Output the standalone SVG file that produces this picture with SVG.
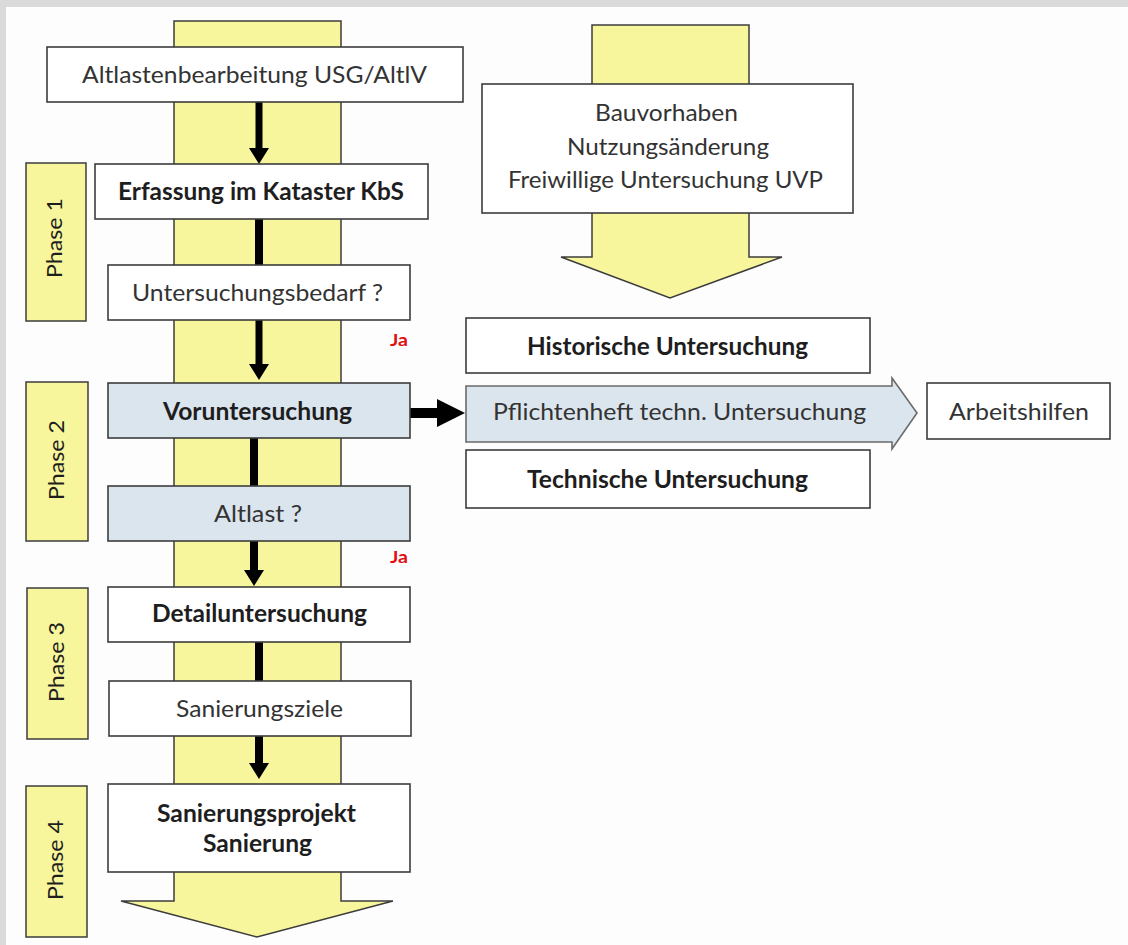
<svg xmlns="http://www.w3.org/2000/svg" width="1128" height="945" viewBox="0 0 1128 945">
  <style>
    .bg { fill: #fdfdfd; }
    .frame { fill: #dadada; }
    .yel { fill: #f8f69c; stroke: #3c3c3c; stroke-width: 1.5; }
    .box { fill: #ffffff; stroke: #3c3c3c; stroke-width: 1.6; }
    .blue { fill: #dbe5ee; stroke: #3c3c3c; stroke-width: 1.6; }
    .pfl { fill: #dbe5ee; stroke: #6a6a6a; stroke-width: 1.6; }
    text { font-family: Lato, "Open Sans", "Liberation Sans", sans-serif; text-anchor: middle; }
    .n { font-size: 24px; fill: #333333; }
    .b { font-size: 24px; font-weight: bold; fill: #1e1e1e; }
    .ph { font-size: 22px; fill: #1e1e1e; }
    .ja { font-size: 17px; font-weight: bold; fill: #e01010; }
    .con { stroke: #000000; fill: none; }
  </style>
  <defs>
    <marker id="ah" viewBox="0 -10 16 20" refX="0" refY="0" markerUnits="userSpaceOnUse" markerWidth="16" markerHeight="20" orient="auto">
      <path d="M0,-10 L16,0 L0,10 Z" fill="#000000"/>
    </marker>
    <marker id="ahBig" viewBox="0 -14 28 28" refX="0" refY="0" markerUnits="userSpaceOnUse" markerWidth="28" markerHeight="28" orient="auto">
      <path d="M0,-14 L28,0 L0,14 Z" fill="#000000"/>
    </marker>
  </defs>

  <!-- background -->
  <rect class="bg" x="0" y="0" width="1128" height="945"/>
  <rect class="frame" x="0" y="0" width="1128" height="7"/>
  <rect class="frame" x="0" y="0" width="6" height="945"/>

  <!-- big yellow flow arrows -->
  <g id="mainFlow">
    <polygon class="yel" points="174,21 341,21 341,901 393,901 257,937 121,901 174,901"/>
  </g>
  <g id="sideFlow">
    <polygon class="yel" points="592,25 749,25 749,257 782,257 670,298 561,257 592,257"/>
  </g>

  <!-- phase labels -->
  <g id="phase1">
    <rect class="yel" x="26" y="163" width="60" height="158"/>
    <text class="ph" transform="translate(62,238) rotate(-90)" textLength="80" lengthAdjust="spacingAndGlyphs">Phase 1</text>
  </g>
  <g id="phase2">
    <rect class="yel" x="26" y="382" width="62" height="159"/>
    <text class="ph" transform="translate(64,460) rotate(-90)" textLength="80" lengthAdjust="spacingAndGlyphs">Phase 2</text>
  </g>
  <g id="phase3">
    <rect class="yel" x="27" y="588" width="61" height="151"/>
    <text class="ph" transform="translate(64,662) rotate(-90)" textLength="80" lengthAdjust="spacingAndGlyphs">Phase 3</text>
  </g>
  <g id="phase4">
    <rect class="yel" x="26" y="786" width="61" height="151"/>
    <text class="ph" transform="translate(63,860) rotate(-90)" textLength="80" lengthAdjust="spacingAndGlyphs">Phase 4</text>
  </g>

  <!-- connectors -->
  <g id="connectors">
    <line class="con" x1="259" y1="102" x2="259" y2="148" stroke-width="7" marker-end="url(#ah)"/>
    <line class="con" x1="259" y1="219" x2="259" y2="265" stroke-width="8"/>
    <line class="con" x1="259" y1="320" x2="259" y2="364" stroke-width="7" marker-end="url(#ah)"/>
    <line class="con" x1="254" y1="438" x2="254" y2="486" stroke-width="8"/>
    <line class="con" x1="254" y1="541" x2="254" y2="570" stroke-width="8" marker-end="url(#ah)"/>
    <line class="con" x1="259" y1="642" x2="259" y2="681" stroke-width="8"/>
    <line class="con" x1="259" y1="736" x2="259" y2="763" stroke-width="8" marker-end="url(#ah)"/>
    <line class="con" x1="410" y1="413" x2="437" y2="413" stroke-width="10" marker-end="url(#ahBig)"/>
    <text class="ja" x="399" y="346" textLength="18" lengthAdjust="spacingAndGlyphs">Ja</text>
    <text class="ja" x="399" y="563" textLength="18" lengthAdjust="spacingAndGlyphs">Ja</text>
  </g>

  <!-- main column nodes -->
  <g id="altlastenbearbeitung">
    <rect class="box" x="47" y="47" width="416" height="55"/>
    <text class="n" x="254.5" y="83" textLength="345" lengthAdjust="spacingAndGlyphs">Altlastenbearbeitung USG/AltlV</text>
  </g>
  <g id="erfassung">
    <rect class="box" x="95" y="164" width="333" height="55"/>
    <text class="b" x="261" y="200" textLength="286" lengthAdjust="spacingAndGlyphs">Erfassung im Kataster KbS</text>
  </g>
  <g id="untersuchungsbedarf">
    <rect class="box" x="108" y="265" width="302" height="55"/>
    <text class="n" x="257.5" y="301" textLength="251" lengthAdjust="spacingAndGlyphs">Untersuchungsbedarf ?</text>
  </g>
  <g id="voruntersuchung">
    <rect class="blue" x="108" y="383" width="302" height="55"/>
    <text class="b" x="257.5" y="420" textLength="189" lengthAdjust="spacingAndGlyphs">Voruntersuchung</text>
  </g>
  <g id="altlast">
    <rect class="blue" x="108" y="486" width="302" height="55"/>
    <text class="n" x="258" y="522" textLength="88" lengthAdjust="spacingAndGlyphs">Altlast ?</text>
  </g>
  <g id="detailuntersuchung">
    <rect class="box" x="108" y="587" width="302" height="55"/>
    <text class="b" x="259.5" y="622" textLength="215" lengthAdjust="spacingAndGlyphs">Detailuntersuchung</text>
  </g>
  <g id="sanierungsziele">
    <rect class="box" x="109" y="681" width="302" height="55"/>
    <text class="n" x="259.5" y="717" textLength="167" lengthAdjust="spacingAndGlyphs">Sanierungsziele</text>
  </g>
  <g id="sanierungsprojekt">
    <rect class="box" x="108" y="784" width="302" height="88"/>
    <text class="b" x="256.5" y="822" textLength="199" lengthAdjust="spacingAndGlyphs">Sanierungsprojekt</text>
    <text class="b" x="257.5" y="852" textLength="109" lengthAdjust="spacingAndGlyphs">Sanierung</text>
  </g>

  <!-- right side nodes -->
  <g id="bauvorhaben">
    <rect class="box" x="482" y="84" width="371" height="129"/>
    <text class="n" x="666.5" y="121" textLength="143" lengthAdjust="spacingAndGlyphs">Bauvorhaben</text>
    <text class="n" x="668" y="155" textLength="202" lengthAdjust="spacingAndGlyphs">Nutzungsänderung</text>
    <text class="n" x="665.5" y="188" textLength="315" lengthAdjust="spacingAndGlyphs">Freiwillige Untersuchung UVP</text>
  </g>
  <g id="historische">
    <rect class="box" x="466" y="318" width="404" height="55"/>
    <text class="b" x="667.5" y="355" textLength="281" lengthAdjust="spacingAndGlyphs">Historische Untersuchung</text>
  </g>
  <g id="pflichtenheft">
    <polygon class="pfl" points="466,386 892,386 892,378 917,413 892,449 892,442 466,442"/>
    <text class="n" x="679.5" y="420" textLength="373" lengthAdjust="spacingAndGlyphs">Pflichtenheft techn. Untersuchung</text>
  </g>
  <g id="technische">
    <rect class="box" x="466" y="450" width="404" height="58"/>
    <text class="b" x="667.5" y="488" textLength="281" lengthAdjust="spacingAndGlyphs">Technische Untersuchung</text>
  </g>
  <g id="arbeitshilfen">
    <rect class="box" x="927" y="383" width="183" height="56"/>
    <text class="n" x="1019" y="420" textLength="140" lengthAdjust="spacingAndGlyphs">Arbeitshilfen</text>
  </g>
</svg>
